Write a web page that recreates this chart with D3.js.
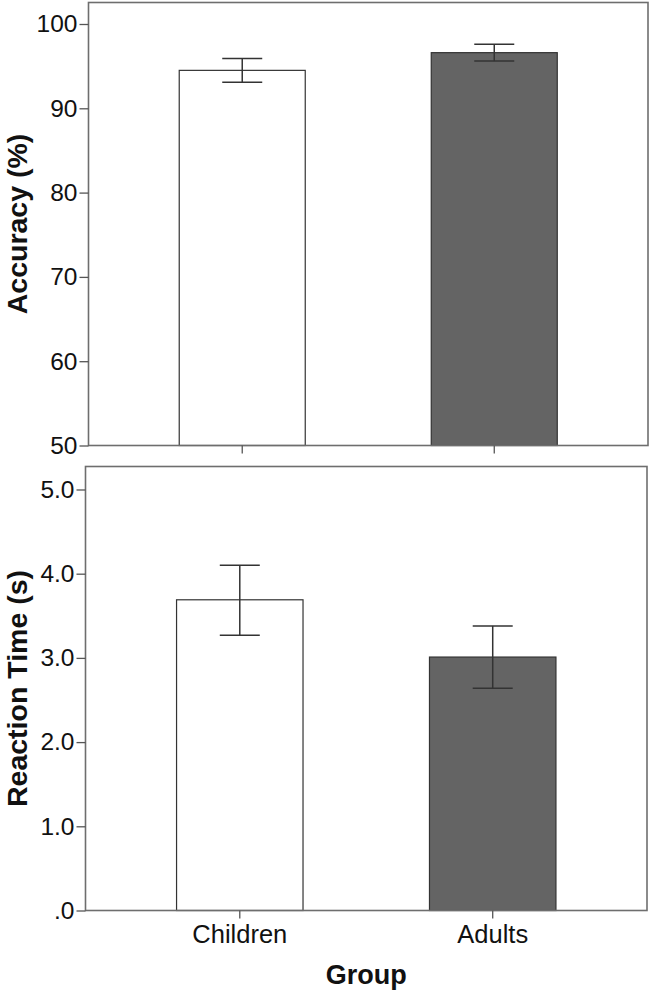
<!DOCTYPE html>
<html>
<head>
<meta charset="utf-8">
<script src="https://cdn.jsdelivr.net/npm/d3@7"></script>
<style>
  html, body { margin: 0; padding: 0; background: #fff; }
  svg { display: block; }
  text { font-family: "Liberation Sans", Arial, sans-serif; fill: #111; }
</style>
</head>
<body>
<svg id="chart" width="651" height="991"></svg>
<script>
// ---- data ----
const groups = ["Children", "Adults"];
const accuracyMean = [94.5, 96.6];
const accuracyLow = [93.1, 95.6];
const accuracyHigh = [95.9, 97.6];
const rtMean = [3.69, 3.01];
const rtLow = [3.27, 2.64];
const rtHigh = [4.10, 3.38];
const accuracyTicks = [50, 60, 70, 80, 90, 100];
const rtTicks = [0, 1, 2, 3, 4, 5];
const barFills = ["#ffffff", "#646464"];

const svg = d3.select("#chart");

function panel(opts) {
  const { left, right, top, bottom, domain, ticks, fmt, means, lows, highs, title, showLabels } = opts;
  const g = svg.append("g");
  const x = d3.scaleBand().domain(groups).range([left, right])
    .paddingInner(0.5).paddingOuter(0.36);
  const y = d3.scaleLinear().domain(domain).range([bottom, top]);

  // bars
  g.selectAll("rect.bar").data(groups).join("rect")
    .attr("class", "bar")
    .attr("x", d => x(d))
    .attr("width", x.bandwidth())
    .attr("y", (d, i) => y(means[i]))
    .attr("height", (d, i) => y(domain[0]) - y(means[i]))
    .attr("fill", (d, i) => barFills[i])
    .attr("stroke", "#333")
    .attr("stroke-width", 1.2);

  // error bars
  const capW = 40;
  const eb = g.selectAll("g.err").data(groups).join("g").attr("class", "err")
    .attr("stroke", "#333").attr("stroke-width", 1.5);
  eb.append("line")
    .attr("x1", d => x(d) + x.bandwidth() / 2).attr("x2", d => x(d) + x.bandwidth() / 2)
    .attr("y1", (d, i) => y(lows[i])).attr("y2", (d, i) => y(highs[i]));
  eb.append("line")
    .attr("x1", d => x(d) + x.bandwidth() / 2 - capW / 2).attr("x2", d => x(d) + x.bandwidth() / 2 + capW / 2)
    .attr("y1", (d, i) => y(lows[i])).attr("y2", (d, i) => y(lows[i]));
  eb.append("line")
    .attr("x1", d => x(d) + x.bandwidth() / 2 - capW / 2).attr("x2", d => x(d) + x.bandwidth() / 2 + capW / 2)
    .attr("y1", (d, i) => y(highs[i])).attr("y2", (d, i) => y(highs[i]));

  // frame
  g.append("rect")
    .attr("x", left).attr("y", top)
    .attr("width", right - left).attr("height", bottom - top)
    .attr("fill", "none").attr("stroke", "#6e6e6e").attr("stroke-width", 1.6);

  // y axis
  const ya = g.append("g").attr("transform", `translate(${left},0)`)
    .call(d3.axisLeft(y).tickValues(ticks).tickFormat(fmt).tickSize(9).tickSizeOuter(0).tickPadding(2));
  ya.select(".domain").remove();
  ya.selectAll(".tick line").attr("stroke", "#555").attr("stroke-width", 1.3);
  ya.selectAll(".tick text").attr("font-size", 24.5).attr("fill", "#111")
    .style("font-family", "'Liberation Sans', Arial, sans-serif");

  // x axis
  const xa = g.append("g").attr("transform", `translate(0,${bottom})`)
    .call(d3.axisBottom(x).tickSize(8).tickSizeOuter(0).tickPadding(6));
  xa.select(".domain").remove();
  xa.selectAll(".tick line").attr("stroke", "#555").attr("stroke-width", 1.3);
  xa.selectAll(".tick text").attr("font-size", 25.5).attr("fill", "#111")
    .style("font-family", "'Liberation Sans', Arial, sans-serif")
    .style("display", showLabels ? null : "none");

  // y title
  g.append("text")
    .attr("transform", `translate(27,${(top + bottom) / 2}) rotate(-90)`)
    .attr("text-anchor", "middle")
    .attr("font-size", 28.5).attr("font-weight", "bold")
    .text(title);
}

panel({
  left: 88.5, right: 648, top: 2.5, bottom: 445.5,
  domain: [50, 102.55], ticks: accuracyTicks, fmt: d3.format("d"),
  means: accuracyMean, lows: accuracyLow, highs: accuracyHigh,
  title: "Accuracy (%)", showLabels: false
});

panel({
  left: 85.5, right: 647, top: 466.5, bottom: 910.5,
  domain: [0, 5.273], ticks: rtTicks, fmt: v => v === 0 ? ".0" : v.toFixed(1),
  means: rtMean, lows: rtLow, highs: rtHigh,
  title: "Reaction Time (s)", showLabels: true
});

svg.append("text")
  .attr("x", (85.5 + 647) / 2).attr("y", 984)
  .attr("text-anchor", "middle")
  .attr("font-size", 27).attr("font-weight", "bold")
  .text("Group");
</script>
</body>
</html>
